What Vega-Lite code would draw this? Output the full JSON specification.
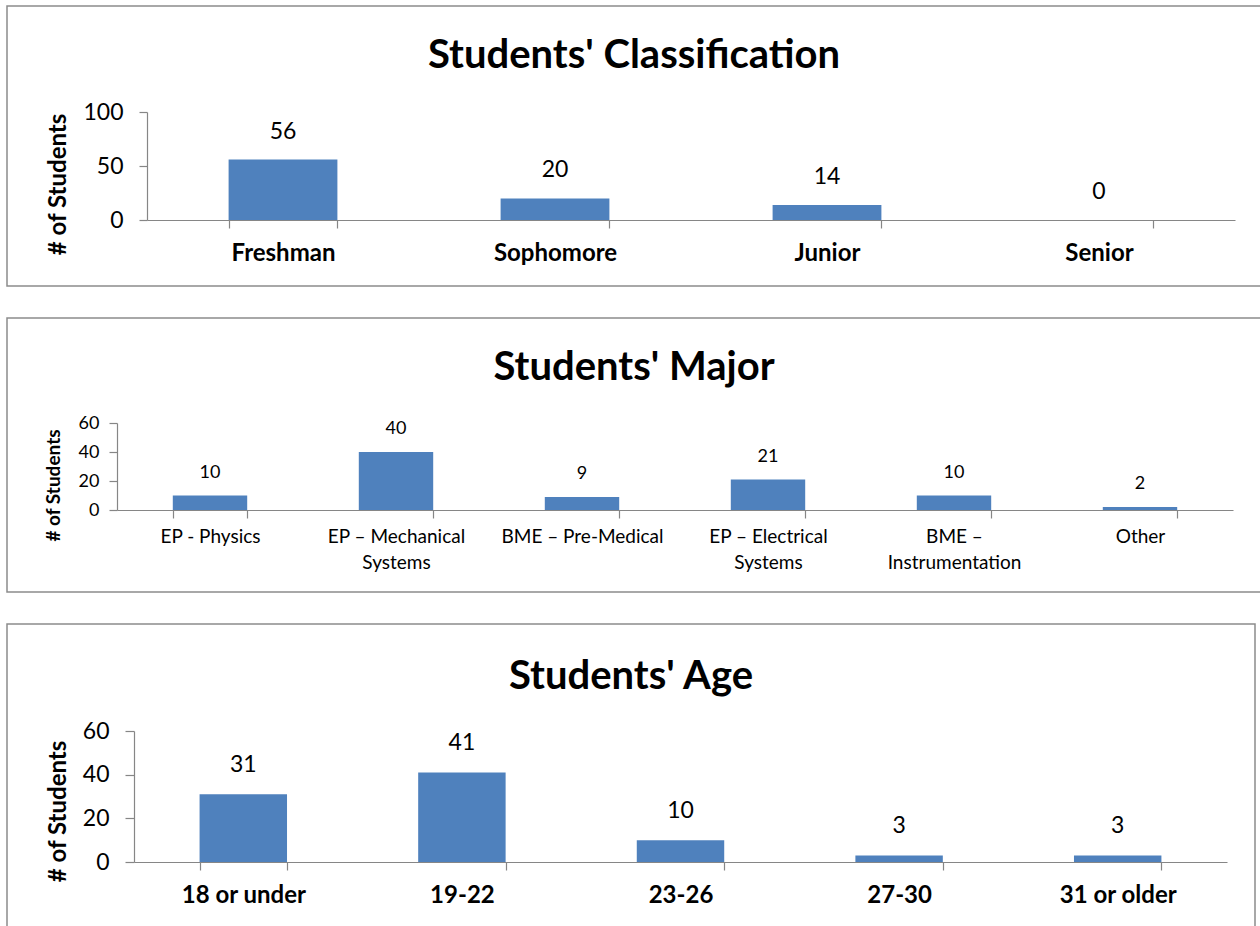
{
  "$schema": "https://vega.github.io/schema/vega-lite/v6.json",
  "padding": {"left": 6, "top": 5, "right": 0, "bottom": 0},
  "background": "white",
  "spacing": 30,
  "config": {
    "font": "Lato",
    "view": {"stroke": "#8c8c8c", "strokeWidth": 1.5},
    "axis": {"domainColor": "#868686", "tickColor": "#868686", "grid": false, "labelColor": "black", "titleColor": "black", "labelOverlap": false, "domainWidth": 1.2, "tickWidth": 1.2},
    "title": {"color": "black", "fontWeight": "bold", "fontSize": 40, "anchor": "middle", "frame": "group"}
  },
  "vconcat": [
    {
      "width": 1254,
      "height": 280,
      "title": {"text": "Students' Classification", "offset": -70},
      "data": {"values": [
        {"category": "Freshman", "students": 56},
        {"category": "Sophomore", "students": 20},
        {"category": "Junior", "students": 14},
        {"category": "Senior", "students": 0}
      ]},
      "encoding": {
        "x": {"field": "category", "type": "nominal", "sort": null,
          "scale": {"range": [140, 1228], "paddingInner": 0.6, "paddingOuter": 0.3},
          "axis": {"title": null, "labelAngle": 0, "offset": -66, "tickBand": "extent", "tickSize": 8, "labelPadding": 13, "labelFontSize": 24, "labelFontWeight": "bold"}},
        "y": {"field": "students", "type": "quantitative",
          "scale": {"domain": [0, 100], "range": [214, 106]},
          "axis": {"title": "# of Students", "values": [0, 50, 100], "offset": -140, "tickSize": 8, "labelPadding": 16, "labelFontSize": 23, "titleFontSize": 24, "titleFontWeight": "bold", "titleX": -89, "titleY": 178, "titleBaseline": "middle", "titleAlign": "center"}}
      },
      "layer": [
        {"mark": {"type": "bar", "color": "#4F81BD"}},
        {"mark": {"type": "text", "baseline": "bottom", "dy": -16, "fontSize": 23, "color": "black"}, "encoding": {"text": {"field": "students", "type": "quantitative"}}}
      ]
    },
    {
      "width": 1254,
      "height": 274,
      "title": {"text": "Students' Major", "offset": -70},
      "data": {"values": [
        {"category": "EP - Physics", "students": 10},
        {"category": "EP – Mechanical Systems", "students": 40},
        {"category": "BME – Pre-Medical", "students": 9},
        {"category": "EP – Electrical Systems", "students": 21},
        {"category": "BME – Instrumentation", "students": 10},
        {"category": "Other", "students": 2}
      ]},
      "encoding": {
        "x": {"field": "category", "type": "nominal", "sort": null,
          "scale": {"range": [110, 1226], "paddingInner": 0.6, "paddingOuter": 0.3},
          "axis": {"title": null, "labelAngle": 0, "offset": -82, "tickBand": "extent", "tickSize": 8, "labelPadding": 9, "labelFontSize": 19, "labelLineHeight": 26,
            "labelExpr": "datum.value == 'EP – Mechanical Systems' ? ['EP – Mechanical', 'Systems'] : datum.value == 'EP – Electrical Systems' ? ['EP – Electrical', 'Systems'] : datum.value == 'BME – Instrumentation' ? ['BME –', 'Instrumentation'] : datum.value"}},
        "y": {"field": "students", "type": "quantitative",
          "scale": {"domain": [0, 60], "range": [192, 105]},
          "axis": {"title": "# of Students", "values": [0, 20, 40, 60], "offset": -110, "tickSize": 8, "labelPadding": 10, "labelFontSize": 18, "titleFontSize": 19, "titleFontWeight": "bold", "titleX": -64, "titleY": 167, "titleBaseline": "middle", "titleAlign": "center"}}
      },
      "layer": [
        {"mark": {"type": "bar", "color": "#4F81BD"}},
        {"mark": {"type": "text", "baseline": "bottom", "dy": -14, "fontSize": 18, "color": "black"}, "encoding": {"text": {"field": "students", "type": "quantitative"}}}
      ]
    },
    {
      "width": 1248,
      "height": 303,
      "title": {"text": "Students' Age", "offset": -73},
      "data": {"values": [
        {"category": "18 or under", "students": 31},
        {"category": "19-22", "students": 41},
        {"category": "23-26", "students": 10},
        {"category": "27-30", "students": 3},
        {"category": "31 or older", "students": 3}
      ]},
      "encoding": {
        "x": {"field": "category", "type": "nominal", "sort": null,
          "scale": {"range": [127, 1220], "paddingInner": 0.6, "paddingOuter": 0.3},
          "axis": {"title": null, "labelAngle": 0, "offset": -65, "tickBand": "extent", "tickSize": 8, "labelPadding": 13, "labelFontSize": 24, "labelFontWeight": "bold"}},
        "y": {"field": "students", "type": "quantitative",
          "scale": {"domain": [0, 60], "range": [238, 107]},
          "axis": {"title": "# of Students", "values": [0, 20, 40, 60], "offset": -127, "tickSize": 9, "labelPadding": 16, "labelFontSize": 23, "titleFontSize": 24, "titleFontWeight": "bold", "titleX": -76, "titleY": 187, "titleBaseline": "middle", "titleAlign": "center"}}
      },
      "layer": [
        {"mark": {"type": "bar", "color": "#4F81BD"}},
        {"mark": {"type": "text", "baseline": "bottom", "dy": -17, "fontSize": 23, "color": "black"}, "encoding": {"text": {"field": "students", "type": "quantitative"}}}
      ]
    }
  ]
}
